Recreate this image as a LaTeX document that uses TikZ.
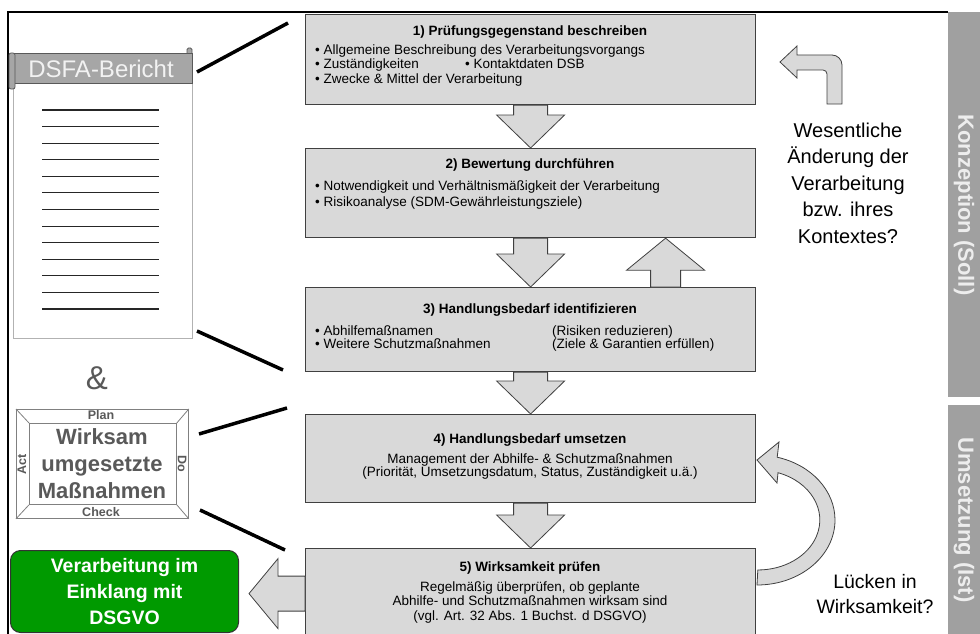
\documentclass[tikz,border=0pt]{standalone}
\usepackage{fontspec}
\setmainfont{Liberation Sans}
\usetikzlibrary{calc}
\definecolor{boxfill}{HTML}{D9D9D9}
\definecolor{boxline}{HTML}{404040}
\definecolor{bandgray}{HTML}{A0A0A0}
\definecolor{bandtext}{HTML}{EDEDED}
\definecolor{darkgray}{HTML}{595959}
\definecolor{okgreen}{HTML}{009A00}
\definecolor{pdcaline}{HTML}{808080}
\definecolor{bannergray}{HTML}{A6A6A6}
\newcommand\blkdown[2]{%
  \draw[blockarrow] let \p1=(#1.south), \p2=(#2.north) in
  (\x1-17pt,\y1) -- (\x1-17pt,\y2+33pt) -- (\x1-34pt,\y2+33pt) -- (\x1,\y2)
  -- (\x1+34pt,\y2+33pt) -- (\x1+17pt,\y2+33pt) -- (\x1+17pt,\y1) -- cycle;}
\begin{document}
\begin{tikzpicture}[x=1pt,y=-1pt,
  stepbox/.style={draw=boxline, fill=boxfill, line width=1.2pt, minimum width=450pt, anchor=north west, inner sep=0pt},
  blockarrow/.style={draw=boxline, fill=boxfill, line width=0.8pt, line join=miter},
  body/.style={font=\fontsize{13.5}{14}\selectfont, inner sep=0pt, text height=10pt, text depth=3pt},
  ttl/.style={body, font=\fontsize{13.5}{14}\selectfont\bfseries},
  link/.style={line width=3.5pt, black},
  lbl/.style={font=\fontsize{12.5}{12.5}\selectfont\bfseries, text=darkgray, inner sep=0pt},
  lines/.style={line width=1.1pt, black!85}]
\useasboundingbox (0,0) rectangle (980,634);
\clip (0,0) rectangle (980,634);

% frame
\draw[line width=1.2pt] (8,640) -- (8,12) -- (948,12);

% right bands
\fill[bandgray] (948,12) rectangle (980,397);
\fill[bandgray] (948,405) rectangle (980,645);
\node[rotate=-90, font=\fontsize{22}{22}\selectfont\bfseries, text=bandtext] (band1) at (964,205) {Konzeption (Soll)};
\node[rotate=-90, font=\fontsize{22}{22}\selectfont\bfseries, text=bandtext] (band2) at (964,520) {Umsetzung (Ist)};

% step boxes
\node[stepbox, minimum height=90pt] (b1) at (305,14) {};
\node[stepbox, minimum height=89pt] (b2) at (305,148) {};
\node[stepbox, minimum height=84pt] (b3) at (305,287) {};
\node[stepbox, minimum height=88pt] (b4) at (305,414) {};
\node[stepbox, minimum height=90pt] (b5) at (305,548) {};

% arrows between boxes
\blkdown{b1}{b2}
\blkdown{b2}{b3}
\blkdown{b3}{b4}
\blkdown{b4}{b5}
\draw[blockarrow] let \p1=($(b3.north)+(135,0)$), \p2=(b2.south) in
  (\x1-15pt,\y1) -- (\x1-15pt,\y2-32pt) -- (\x1-39pt,\y2-32pt) -- (\x1,\y2)
  -- (\x1+39pt,\y2-32pt) -- (\x1+15pt,\y2-32pt) -- (\x1+15pt,\y1) -- cycle;

% texts box 1
\node[ttl] (t1) at (530,32) {1) Prüfungsgegenstand beschreiben};
\node[body, anchor=west] (t1a) at (315,51) {• Allgemeine Beschreibung des Verarbeitungsvorgangs};
\node[body, anchor=west] (t1b) at (315,65) {• Zuständigkeiten};
\node[body, anchor=west] (t1c) at (465,65) {• Kontaktdaten DSB};
\node[body, anchor=west] (t1d) at (315,80) {• Zwecke \& Mittel der Verarbeitung};
% box 2
\node[ttl] (t2) at (530,165) {2) Bewertung durchführen};
\node[body, anchor=west] (t2a) at (315,187) {• Notwendigkeit und Verhältnismäßigkeit der Verarbeitung};
\node[body, anchor=west] (t2b) at (315,203) {• Risikoanalyse (SDM-Gewährleistungsziele)};
% box 3
\node[ttl] (t3) at (530,310) {3) Handlungsbedarf identifizieren};
\node[body, anchor=west] (t3a) at (315,332) {• Abhilfemaßnamen};
\node[body, anchor=west] (t3b) at (552,332) {(Risiken reduzieren)};
\node[body, anchor=west] (t3c) at (315,345) {• Weitere Schutzmaßnahmen};
\node[body, anchor=west] (t3d) at (552,345) {(Ziele \& Garantien erfüllen)};
% box 4
\node[ttl] (t4) at (530,440) {4) Handlungsbedarf umsetzen};
\node[body] (t4a) at (530,460) {Management der Abhilfe- \& Schutzmaßnahmen};
\node[body] (t4b) at (530,473) {(Priorität, Umsetzungsdatum, Status, Zuständigkeit u.ä.)};
% box 5
\node[ttl] (t5) at (530,568) {5) Wirksamkeit prüfen};
\node[body] (t5a) at (530,588) {Regelmäßig überprüfen, ob geplante};
\node[body] (t5b) at (530,602) {Abhilfe- und Schutzmaßnahmen wirksam sind};
\node[body] (t5c) at (530,617) {(vgl. Art. 32 Abs. 1 Buchst. d DSGVO)};

% green result box
\node[draw=black!80, fill=okgreen, rounded corners=10pt, minimum width=228pt, minimum height=82pt,
  anchor=north west, line width=1pt, inner sep=0pt, align=center, text=white,
  font=\fontsize{19.5}{26}\selectfont\bfseries] (ok) at (10,550) {Verarbeitung im\\Einklang mit\\DSGVO};
\draw[blockarrow] let \p1=(b5.west), \p2=($(ok.east)+(10,0)$) in
  (\x1,\y1+17.5pt) -- (\x2+29pt,\y1+17.5pt) -- (\x2+29pt,\y1+35pt) -- (\x2,\y1)
  -- (\x2+29pt,\y1-35pt) -- (\x2+29pt,\y1-17.5pt) -- (\x1,\y1-17.5pt) -- cycle;

% right side questions
\node[font=\fontsize{20}{26.5}\selectfont, align=center] (q1) at (848,183) {Wesentliche\\Änderung der\\Verarbeitung\\bzw. ihres\\Kontextes?};
\node[font=\fontsize{19.5}{25}\selectfont, align=center] (q2) at (875,594) {Lücken in\\Wirksamkeit?};

% bent return arrow (top right)
\draw[blockarrow] (780,62) -- (797,46) -- (797,55) -- (832,55)
  arc[start angle=-90, end angle=0, radius=10] -- (842,104) -- (827,104)
  -- (827,74) arc[start angle=0, end angle=-90, radius=4] -- (797,70) -- (797,78) -- cycle;

% curved return arrow (bottom right)
\draw[blockarrow] (757,585) arc[start angle=90, end angle=-75, x radius=78, y radius=65]
  -- (779,442) -- (757,460) -- (777,483) -- (778,472.7)
  arc[start angle=-71, end angle=90, x radius=62, y radius=50] -- cycle;

% DSFA report
\node[draw=black!30, fill=white, minimum width=179pt, minimum height=255pt, anchor=north west, inner sep=0pt] (page) at (13,83) {};
\foreach \i in {0,...,12}
  \draw[lines] (42,{110+16.58*\i}) -- (159,{110+16.58*\i});
\draw[draw=darkgray, fill=bannergray, line width=0.8pt, rounded corners=1.5pt] (187,54) -- (187,48) -- (192,48) -- (192,54);
\draw[draw=darkgray, fill=bannergray, line width=0.8pt] (12,53) rectangle (192,83);
\draw[draw=darkgray, fill=bannergray, line width=0.8pt, rounded corners=2pt] (9,53) rectangle (15,89);
\node[font=\fontsize{24}{24}\selectfont, text=white!95!black, inner sep=0pt] (banner) at (101,69) {DSFA-Bericht};

% ampersand
\node[font=\fontsize{33}{33}\selectfont, text=darkgray] (amp) at (97,378) {\&};

% PDCA box
\node[draw=pdcaline, fill=white, minimum width=172pt, minimum height=109pt, anchor=north west, inner sep=0pt, line width=0.8pt] (pdo) at (16,409) {};
\node[draw=pdcaline, minimum width=147pt, minimum height=81pt, anchor=north west, inner sep=0pt, line width=0.8pt] (pdi) at (29,423) {};
\draw[pdcaline, line width=0.8pt] (pdo.north west) -- (pdi.north west);
\draw[pdcaline, line width=0.8pt] (pdo.north east) -- (pdi.north east);
\draw[pdcaline, line width=0.8pt] (pdo.south west) -- (pdi.south west);
\draw[pdcaline, line width=0.8pt] (pdo.south east) -- (pdi.south east);
\node[lbl] (plan) at (101,415) {Plan};
\node[lbl] (check) at (101,512) {Check};
\node[lbl, rotate=90] (act) at (22,464) {Act};
\node[lbl, rotate=-90] (do) at (182,464) {Do};
\node[font=\fontsize{22}{27}\selectfont\bfseries, text=darkgray, align=center, inner sep=0pt] (pdtext) at (102,464) {Wirksam\\umgesetzte\\Maßnahmen};

% connector lines
\coordinate (c1a) at (197,72);  \coordinate (c1b) at (288,23);
\coordinate (c2a) at (197,331); \coordinate (c2b) at (283,370);
\coordinate (c3a) at (199,434); \coordinate (c3b) at (287,408);
\coordinate (c4a) at (200,510); \coordinate (c4b) at (285,550);
\draw[link] (c1a) -- (c1b);
\draw[link] (c2a) -- (c2b);
\draw[link] (c3a) -- (c3b);
\draw[link] (c4a) -- (c4b);
\end{tikzpicture}
\end{document}
